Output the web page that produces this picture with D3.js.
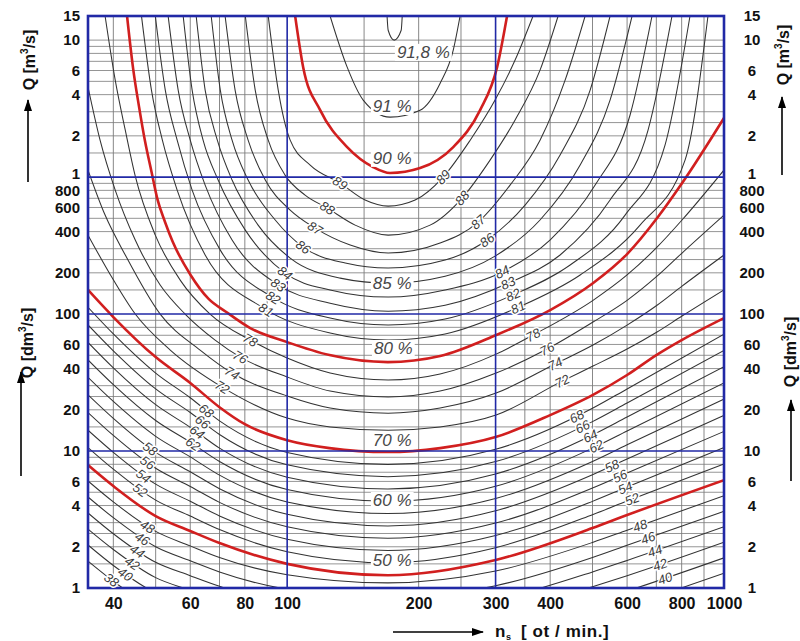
<!DOCTYPE html>
<html><head><meta charset="utf-8">
<script src="https://cdn.jsdelivr.net/npm/d3@7"></script>
<style>body{margin:0;background:#fff}svg{display:block}</style>
</head><body>
<svg id="c" width="800" height="641"></svg>
<script>
// ---------- axis data ----------
const NS_TICKS = [40,60,80,100,200,300,400,600,800,1000];
const Q_TICK_VALUES = [15000,10000,6000,4000,2000,1000,800,600,400,200,100,60,40,20,10,6,4,2,1];
const Q_TICK_TEXT = ["15","10","6","4","2","1","800","600","400","200","100","60","40","20","10","6","4","2","1"];
const GRID_NS = [40,50,60,70,80,90,150,200,250,350,400,500,600,700,800,900];
const GRID_Q_MANT = [1,1.5,2,2.5,3,4,5,6,7,8,9];
const GRID_DECADES = [1,10,100,1000,10000];
const BLUE_NS = [100,300];
const BLUE_Q = [10,100,1000];

// ---------- efficiency curves [ns, Q dm3/s] ----------
const eff91_8 = [[169.3,15000],[170.3,11800],[175.8,10000],[182.4,11800],[183.4,15000]];
const eff91 = [[125.4,15000],[137.2,6350],[149.3,3650],[172,2740],[201.5,3080],[224,4850],[240,8450],[248.8,15000]];
const eff90 = [[104.3,15000],[108.8,6350],[119,3080],[137.2,1656],[157.3,1183],[172,1070],[201.5,1163],[240,1656],[276.5,3080],[302.4,6350],[318.7,15000]];
const eff89 = [[90.5,15000],[95.4,4320],[101.6,1860],[112.9,1224],[132.2,904],[150.8,680],[170.3,614],[196.3,680],[227.5,1000],[262.4,1860],[299.2,3650],[332.5,7150],[365.5,15000]];
const eff88 = [[80.2,15000],[84.5,4320],[90.5,1860],[98.9,1034],[109.9,739],[123.5,594],[143.1,446],[170.3,377],[212.4,446],[251.5,703],[291.4,1330],[332.5,2610],[379.2,6040],[417.1,15000]];
const eff87 = [[72.1,15000],[76.0,4320],[81.4,1860],[89.1,951],[101.6,574],[115.9,424],[139.4,319],[170.3,279],[223.9,330],[273.6,469],[323.8,874],[379.2,1860],[432.8,5100],[480.9,15000]];
const eff86 = [[67.0,15000],[70.3,4320],[74.8,1860],[81.4,951],[93.9,486],[108.8,308],[135.8,236],[170.3,217],[229.9,248],[286.9,347],[350.4,625],[421.5,1450],[493.8,4320],[548.5,15000]];
const eff85 = [[61.9,15000],[64.9,4320],[69.2,1860],[74.8,951],[85.8,446],[101.6,256],[132.2,183],[170.3,168],[229.9,189],[299.2,265],[379.2,486],[468.5,1224],[548.5,3650],[616,15000]];
const eff84 = [[57.8,15000],[60.6,4320],[64.2,1860],[69.5,951],[80.2,410],[98.9,199],[125.4,150],[170.3,133],[229.9,150],[310.5,203],[399.6,347],[507,874],[609.5,2840],[684.3,15000]];
const eff83 = [[53.4,15000],[56.3,4320],[60.0,1860],[64.9,874],[74.8,347],[95.4,163],[125.4,120],[170.3,105],[229.9,116],[320.4,168],[421.5,270],[548.5,680],[670.1,2200],[760.3,15000]];
const eff82 = [[49.9,15000],[52.6,4320],[56.0,1860],[60.6,804],[70.3,293],[92.4,133],[125.4,93.5],[170.3,83.1],[229.9,91.9],[329,138],[444.4,228],[593.7,528],[732.8,1710],[835.9,15000]];
const eff81 = [[46.4,15000],[48.9,4320],[51.8,1860],[56.0,804],[64.9,270],[88.1,111],[125.4,72.7],[170.3,64.6],[229.9,71.5],[337.8,112],[468.5,193],[642.4,446],[814.4,1330],[919,15000]];
const eff80 = [[43.0,15000],[44.4,6200],[45.8,3270],[47.3,1810],[48.9,1100],[50.5,684],[52.5,472],[54.7,337],[60.1,193],[66.1,129],[72.4,104],[82.3,79],[100,62.4],[125,50.2],[170,44.6],[224,49.4],[301,70.3],[400,107],[501,168],[600,274],[703,502],[802,904],[1000,2700]];
const eff78 = [[38.3,15000],[40.4,5100],[42.6,2200],[44.9,1017],[49.9,377],[56.9,177],[66.6,100],[82.3,64.6],[100,47.7],[125.4,37.1],[170.3,33.0],[223.9,36.5],[300.8,51.0],[365.5,70.3],[501.4,126],[600,193],[702.6,308],[801.5,486],[1000,1125]];
const eff76 = [[35,4540],[37.3,1860],[40.4,804],[44.9,347],[51.2,163],[58.4,100],[68.4,64.6],[78.1,48.5],[100,34.7],[125.4,27.4],[170.3,24.8],[223.9,27.4],[300.8,37.1],[393.6,55.5],[501.4,87.4],[600,126],[702.6,189],[801.5,279],[1000,528]];
const eff74 = [[35,1125],[38.3,528],[42.6,270],[51.2,100],[63.2,54.6],[74.8,37.1],[100,25.2],[125.4,20.6],[170.3,18.9],[223.9,20.6],[300.8,26.5],[410.6,43.2],[501.4,59.4],[600,83.1],[702.6,116],[801.5,160],[1000,270]];
const eff72 = [[35,377],[39.4,193],[44.9,100],[54,54.6],[71,29.3],[100,17.4],[125.4,15.0],[170.3,14.2],[223.9,15.0],[300.8,18.3],[426,32.4],[501.4,41.7],[600,55.5],[702.6,73.9],[801.5,96.7],[1000,150]];
const eff70 = [[35,150],[40,95.1],[50,48.5],[60,31.4],[70,20.9],[80,15.7],[100,12.0],[125,10.5],[170,9.83],[224,10.5],[300,12.65],[400,18.3],[500,25.6],[600,35.9],[700,50.2],[800,64.6],[1000,93.5]];

// lower family: Q read at these ns columns
const NS_COLS = [35,40,50,60,70,100,170,300,500,600,1000];
const q68 = [112,71.6,37.1,24.5,16.6,9.77,7.99,10.3,20.5,28.4,71.2];
const q66 = [83.3,53.9,28.4,19.1,13.2,7.93,6.50,8.37,16.4,22.4,54.2];
const q64 = [62.1,40.5,21.8,14.9,10.5,6.44,5.29,6.80,13.1,17.7,41.3];
const q62 = [46.2,30.5,16.7,11.6,8.38,5.23,4.30,5.53,10.5,14.0,31.4];
const q60 = [34.5,23.0,12.8,9.06,6.67,4.24,3.50,4.50,8.39,11.1,23.9];
const q58 = [25.7,17.3,9.77,7.06,5.31,3.45,2.84,3.66,6.71,8.74,18.2];
const q56 = [19.1,13.0,7.48,5.51,4.22,2.80,2.31,2.98,5.37,6.90,13.9];
const q54 = [14.2,9.79,5.73,4.30,3.36,2.27,1.88,2.42,4.29,5.46,10.6];
const q52 = [10.6,7.37,4.38,3.35,2.67,1.84,1.53,1.97,3.43,4.31,8.05];
const q50 = [7.9,5.55,3.35,2.61,2.13,1.50,1.24,1.60,2.74,3.41,6.13];
const q48 = [6.04,4.25,2.59,2.03,1.67,1.25,1.09,1.33,2.15,2.64,4.72];
const q46 = [4.62,3.26,2.00,1.58,1.31,0.98,0.86,1.04,1.67,2.05,3.63];
const q44 = [3.53,2.49,1.54,1.23,1.03,0.77,0.67,0.82,1.31,1.59,2.80];
const q42 = [2.69,1.91,1.19,0.96,0.80,0.60,0.53,0.64,1.02,1.23,2.16];
const q40 = [2.06,1.46,0.92,0.75,0.63,0.47,0.42,0.50,0.79,0.95,1.66];
const q38 = [1.57,1.12,0.71,0.58,0.50,0.37,0.33,0.39,0.62,0.74,1.28];

const RED = ["90","80","70","50"];

// big percentage labels [text, ns, Q]
const BIG_LABELS = [["91,8 %",205,8200],["91 %",174,3300],["90 %",174,1380],["85 %",174,168],
  ["80 %",175,56.5],["70 %",174,12.0],["60 %",174,4.39],["50 %",174,1.6]];
// small curve labels: [curve, ns on left branch, ns on right branch]
const SMALL_LABELS = [["89",132.2,227.5],["88",123.5,251.5],["87",115.9,273.6],["86",108.8,286.9],
  ["84",98.9,310.5],["83",95.4,320.4],["82",92.9,329],["81",89.5,337.8],
  ["78",82.3,365.5],["76",78.1,393.6],["74",74.8,410.6],["72",71.0,426],
  ["68",65.3,460],["66",64.0,474],["64",62.2,494],["62",60.9,510],
  ["58",48.6,554],["56",47.9,578],["54",46.9,594],["52",46.1,616],
  ["48",47.9,642],["46",46.6,670],["44",45.4,695],["42",44.2,714],["40",42.6,733],["38",39.6,790]];

// ---------- build ----------
const cols = (q)=>NS_COLS.map((n,i)=>[n,q[i]]);
const CURVES = {
  "91.8":eff91_8,"91":eff91,"90":eff90,"89":eff89,"88":eff88,"87":eff87,"86":eff86,"85":eff85,
  "84":eff84,"83":eff83,"82":eff82,"81":eff81,"80":eff80,"78":eff78,"76":eff76,"74":eff74,"72":eff72,"70":eff70,
  "68":cols(q68),"66":cols(q66),"64":cols(q64),"62":cols(q62),"60":cols(q60),"58":cols(q58),"56":cols(q56),
  "54":cols(q54),"52":cols(q52),"50":cols(q50),"48":cols(q48),"46":cols(q46),"44":cols(q44),"42":cols(q42),
  "40":cols(q40),"38":cols(q38)
};

const svg = d3.select("#c");
const L=88,R=724,T=16,B=588;
const x = d3.scaleLog().domain([35,1000]).range([L,R]);
const y = d3.scaleLog().domain([1,15000]).range([B,T]);
const BLUE = "#2129a6";
const FONT = "'Liberation Sans', Arial, sans-serif";

svg.append("rect").attr("width",800).attr("height",641).attr("fill","#fff");
const defs = svg.append("defs");
defs.append("clipPath").attr("id","plot").append("rect")
  .attr("x",L).attr("y",T).attr("width",R-L).attr("height",B-T);
defs.append("marker").attr("id","arr").attr("viewBox","0 0 12 10").attr("refX",11).attr("refY",5)
  .attr("markerWidth",12).attr("markerHeight",10).attr("markerUnits","userSpaceOnUse").attr("orient","auto")
  .append("path").attr("d","M0,1 L12,5 L0,9 Z").attr("fill","#000");

const plot = svg.append("g").attr("clip-path","url(#plot)");

// grid
const gridQ = [];
GRID_DECADES.forEach(d=>GRID_Q_MANT.forEach(m=>{const v=m*d; if(v>1 && v<15000 && !BLUE_Q.includes(v)) gridQ.push(v);}));
plot.append("g").selectAll("line").data(gridQ).join("line")
  .attr("x1",L).attr("x2",R).attr("y1",d=>y(d)).attr("y2",d=>y(d))
  .attr("stroke","#7a7a7a").attr("stroke-width",0.8);
plot.append("g").selectAll("line").data(GRID_NS).join("line")
  .attr("y1",T).attr("y2",B).attr("x1",d=>x(d)).attr("x2",d=>x(d))
  .attr("stroke","#7a7a7a").attr("stroke-width",0.9);

// curves
const line = d3.line().x(d=>x(d[0])).y(d=>y(d[1])).curve(d3.curveMonotoneX);
const paths = {};
const keys = Object.keys(CURVES);
const cg = plot.append("g").attr("fill","none");
keys.filter(k=>!RED.includes(k)).forEach(k=>{
  paths[k] = cg.append("path").attr("d",line(CURVES[k])).attr("stroke","#333").attr("stroke-width",1.05).node();
});
keys.filter(k=>RED.includes(k)).forEach(k=>{
  paths[k] = cg.append("path").attr("d",line(CURVES[k])).attr("stroke","#d11f1f").attr("stroke-width",2.6).node();
});

// blue lines
const bg = svg.append("g").attr("stroke",BLUE);
bg.selectAll(".bh").data(BLUE_Q).join("line").attr("x1",L).attr("x2",R)
  .attr("y1",d=>y(d)).attr("y2",d=>y(d)).attr("stroke-width",1.6);
bg.selectAll(".bv").data(BLUE_NS).join("line").attr("y1",T).attr("y2",B)
  .attr("x1",d=>x(d)).attr("x2",d=>x(d)).attr("stroke-width",1.6);
bg.append("rect").attr("x",L).attr("y",T).attr("width",R-L).attr("height",B-T)
  .attr("fill","none").attr("stroke-width",2.6);

// small labels on curves
function pointAtX(path, px){
  const len = path.getTotalLength();
  let lo=0, hi=len;
  for(let i=0;i<40;i++){const m=(lo+hi)/2; if(path.getPointAtLength(m).x<px) lo=m; else hi=m;}
  const p = path.getPointAtLength(lo);
  const a = path.getPointAtLength(Math.max(0,lo-4)), b = path.getPointAtLength(Math.min(len,lo+4));
  return {x:p.x, y:p.y, ang:Math.atan2(b.y-a.y,b.x-a.x)*180/Math.PI};
}
const sl = svg.append("g").attr("font-family",FONT).attr("font-size",13).attr("fill","#3c3c3c")
  .attr("font-style","italic");
SMALL_LABELS.forEach(([k,nl,nr])=>{
  [nl,nr].forEach(n=>{
    const p = pointAtX(paths[k], x(n));
    if(p.y<T+4 || p.y>B-4) return;
    sl.append("text").attr("transform",`translate(${p.x},${p.y}) rotate(${p.ang})`)
      .attr("text-anchor","middle").attr("dy","0.35em")
      .attr("stroke","#fff").attr("stroke-width",3).attr("paint-order","stroke")
      .text(k);
  });
});

// big labels
const bl = svg.append("g").attr("font-family",FONT).attr("font-size",17).attr("font-style","italic").attr("fill","#484848");
BIG_LABELS.forEach(([t,n,q])=>{
  const g = bl.append("g").attr("transform",`translate(${x(n)},${y(q)})`);
  const tx = g.append("text").attr("text-anchor","middle").attr("dy","0.35em").text(t);
  const bb = tx.node().getBBox();
  g.insert("rect","text").attr("x",bb.x-2).attr("y",bb.y+1).attr("width",bb.width+4).attr("height",bb.height-2).attr("fill","#fff");
});

// axes
function styleAxis(g){
  g.select(".domain").remove();
  g.attr("font-family",FONT).attr("font-size",15).attr("font-weight","bold");
  g.selectAll("text").attr("fill","#111");
}
function nudgeOne(g){ g.selectAll(".tick").filter(d=>d===1000).select("text").attr("dy","0.1em"); }
svg.append("g").attr("transform",`translate(${L},0)`)
  .call(d3.axisLeft(y).tickValues(Q_TICK_VALUES).tickFormat((d,i)=>Q_TICK_TEXT[i]).tickSize(0).tickPadding(8))
  .call(styleAxis).call(nudgeOne);
svg.append("g").attr("transform",`translate(${R},0)`)
  .call(d3.axisRight(y).tickValues(Q_TICK_VALUES).tickFormat((d,i)=>Q_TICK_TEXT[i]).tickSize(0).tickPadding(28))
  .call(styleAxis).call(nudgeOne).call(g=>g.selectAll("text").attr("text-anchor","middle"));
svg.append("g").attr("transform",`translate(0,${B})`)
  .call(d3.axisBottom(x).tickValues(NS_TICKS).tickFormat(d3.format("d")).tickSize(0).tickPadding(10))
  .call(styleAxis).call(g=>g.attr("font-size",16));

// axis titles
function qTitle(cx, cy, unit){
  const t = svg.append("text").attr("transform",`translate(${cx},${cy}) rotate(-90)`)
    .attr("text-anchor","middle").attr("font-family",FONT).attr("font-size",16).attr("font-weight","bold").attr("fill","#111");
  t.append("tspan").text("Q ["+unit);
  t.append("tspan").attr("font-size",10).attr("dy",-7).text("3");
  t.append("tspan").attr("dy",7).text("/s]");
}
qTitle(35,60,"m"); qTitle(33,343,"dm"); qTitle(789,55,"m"); qTitle(796,352,"dm");
function arrow(x1,y1,x2,y2){
  svg.append("line").attr("x1",x1).attr("y1",y1).attr("x2",x2).attr("y2",y2)
    .attr("stroke","#000").attr("stroke-width",1.6).attr("marker-end","url(#arr)");
}
arrow(28,182,28,100); arrow(21,476,21,372); arrow(782,175,782,97); arrow(791,481,791,400);
arrow(393,632,483,632);
const nt = svg.append("text").attr("x",495).attr("y",637).attr("font-family",FONT).attr("font-size",17)
  .attr("font-weight","bold").attr("fill","#111").attr("letter-spacing",0.6);
nt.append("tspan").text("n");
nt.append("tspan").attr("font-size",9).attr("dy",3).text("s");
nt.append("tspan").attr("dy",-3).attr("dx",4).text(" [ ot / min.]");
</script>
</body></html>
